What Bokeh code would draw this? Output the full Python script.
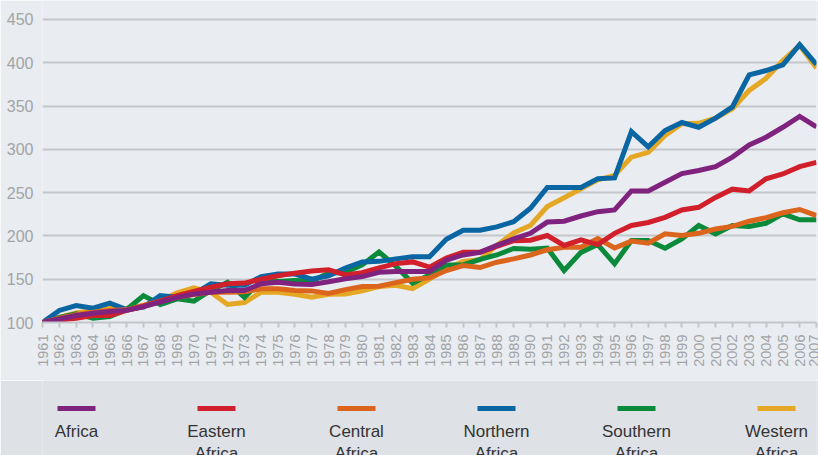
import numpy as np
from bokeh.plotting import figure
from bokeh.layouts import column
from bokeh.models import Range1d, FixedTicker, ColumnDataSource
from bokeh.core.properties import value
from bokeh.embed import file_html
from bokeh.resources import INLINE

years = list(range(1961, 2008))
y_ticks = [100, 150, 200, 250, 300, 350, 400, 450]

regions = ["Africa", "Eastern Africa", "Central Africa", "Northern Africa",
           "Southern Africa", "Western Africa"]

africa = [100, 104, 108, 110.7, 112.7, 114, 118.5, 123.5, 129, 133, 135, 137, 137,
          144.7, 146.6, 144.5, 144, 147, 150.5, 153, 158, 159, 159, 159, 172, 178,
          181, 189, 196.5, 203, 216, 217, 223, 228, 230, 252, 252, 262, 272, 275.5,
          280, 291, 305, 314, 325.5, 338, 326]
eastern = [100, 103, 105, 108, 108, 114, 118.5, 124.6, 131, 136, 140.8, 144.7, 145.5,
           150, 154, 157, 159.5, 161, 155, 157.5, 163, 168, 170, 164, 174.5, 181,
           181, 188, 194.5, 195, 200.5, 189, 195.5, 190, 203, 212, 215.5, 221.5, 230,
           233, 244.5, 254, 252, 266, 271.5, 280, 285]
central = [100, 105, 109, 112, 114, 114.6, 119.6, 124.6, 129.2, 132.3, 135, 135,
           135.5, 139, 139, 137, 136.5, 133.5, 138, 141.5, 142, 146, 150, 151.5, 160,
           165.8, 163.5, 169.6, 173.5, 178, 184, 187, 187, 197, 186, 194, 191.6,
           202.4, 200.5, 203, 208, 211, 217, 221, 226.7, 230.5, 223.5]
northern = [100, 113.9, 119.6, 116.5, 122.3, 115, 117.7, 131, 129.2, 133, 144.7, 143,
            143, 153, 156, 156, 150, 154, 163, 170, 170.6, 173.5, 176, 176, 196, 206.5,
            206.5, 210.5, 216.5, 232, 256, 256, 256, 266, 267, 320.5, 303, 321.7, 331,
            325.5, 336, 349, 386, 391, 397.5, 421, 398]
southern = [100, 106, 110, 105, 107, 115, 131, 120.8, 127.3, 124.6, 137, 146.6, 129,
            148, 147.5, 148.5, 148, 157, 158, 166.5, 181.5, 165, 145.5, 155, 166.5,
            166.5, 173, 178, 185.5, 184.5, 186, 160, 181, 190, 167.8, 194.7, 194.7,
            185.8, 196.6, 212, 202.4, 212, 211, 214.6, 225.5, 218.6, 218.6]
western = [100, 106, 111, 113.9, 117.7, 115.8, 119.6, 125.4, 134.3, 140, 135, 120.8,
           123, 135, 135, 132.5, 129.2, 132.5, 133, 136.5, 141.5, 143, 139, 150, 162,
           170.6, 172.5, 189, 203.5, 212, 234, 244, 254.4, 264.8, 270, 291, 296.6, 316,
           329.6, 330, 336, 347, 368, 382, 402.5, 420, 394]

series = [africa, eastern, central, northern, southern, western]
colors = ["#80237f", "#d11f2b", "#dc651e", "#0a65a3", "#0a8a3a", "#e5a825"]

BG = "#e9ecf0"
GRID = "#c3c6ca"
FONT = "Liberation Sans"

W = 818
H_MAIN = 380
H_LEG = 75
FRAME_L = 42
FRAME_R = 2

p = figure(width=W, height=H_MAIN, x_range=Range1d(1961, 2007),
           y_range=Range1d(100, 471.9), output_backend="svg", toolbar_location=None,
           min_border_left=FRAME_L, min_border_right=FRAME_R, min_border_top=0,
           min_border_bottom=58, background_fill_color=BG, border_fill_color=BG,
           outline_line_color=None)

p.xgrid.visible = False
p.ygrid.ticker = FixedTicker(ticks=y_ticks)
p.ygrid.grid_line_color = GRID
p.ygrid.grid_line_width = 2

p.yaxis.ticker = FixedTicker(ticks=y_ticks)
p.yaxis.axis_line_color = None
p.yaxis.major_tick_line_color = None
p.yaxis.minor_tick_line_color = None
p.yaxis.major_label_text_font = FONT
p.yaxis.major_label_text_font_size = "16px"
p.yaxis.major_label_text_color = "#a2a4a7"
p.yaxis.major_label_standoff = 3

p.xaxis.ticker = FixedTicker(ticks=years)
p.xaxis.major_label_orientation = np.pi / 2
p.xaxis.axis_line_color = GRID
p.xaxis.axis_line_width = 2
p.xaxis.major_tick_line_color = GRID
p.xaxis.major_tick_line_width = 2
p.xaxis.major_tick_out = 5
p.xaxis.major_tick_in = 0
p.xaxis.minor_tick_line_color = None
p.xaxis.major_label_text_font = FONT
p.xaxis.major_label_text_font_size = "14.5px"
p.xaxis.major_label_text_color = "#a2a4a7"
p.xaxis.major_label_standoff = 7

# draw in reverse order so that "Africa" is on top
for vals, col in reversed(list(zip(series, colors))):
    src = ColumnDataSource(dict(x=years, y=vals))
    p.line("x", "y", source=src, line_color=col, line_width=5, line_join="miter")

# legend band (x in page pixels, y measured up from the page bottom)
LEG_BG = "#dee1e6"
lg = figure(width=W, height=H_LEG, x_range=Range1d(FRAME_L, W - FRAME_R),
            y_range=Range1d(0, H_LEG), output_backend="svg", toolbar_location=None,
            min_border_left=FRAME_L, min_border_right=FRAME_R, min_border_top=0,
            min_border_bottom=0, outline_line_color=None, x_axis_type=None,
            y_axis_type=None, background_fill_color=LEG_BG, border_fill_color=LEG_BG)
lg.grid.visible = False

PAGE_H = H_MAIN + H_LEG
n = len(regions)
cx = [76 + 140 * i for i in range(n)]
labels = [r.replace(" ", "\n") for r in regions]
leg_src = ColumnDataSource(dict(x=cx, bar_y=[PAGE_H - 408] * n,
                                text_y=[PAGE_H - 421] * n,
                                text=labels, color=colors))
lg.rect("x", "bar_y", width=38, height=5, source=leg_src, fill_color="color",
        line_color=None)
lg.text("x", "text_y", text="text", source=leg_src, text_align="center",
        text_baseline="top", text_font=value(FONT), text_font_size="17px",
        text_color="#333333", text_line_height=1.2)

layout = column(p, lg, spacing=0)
open("out.html", "w").write(file_html(layout, INLINE))
